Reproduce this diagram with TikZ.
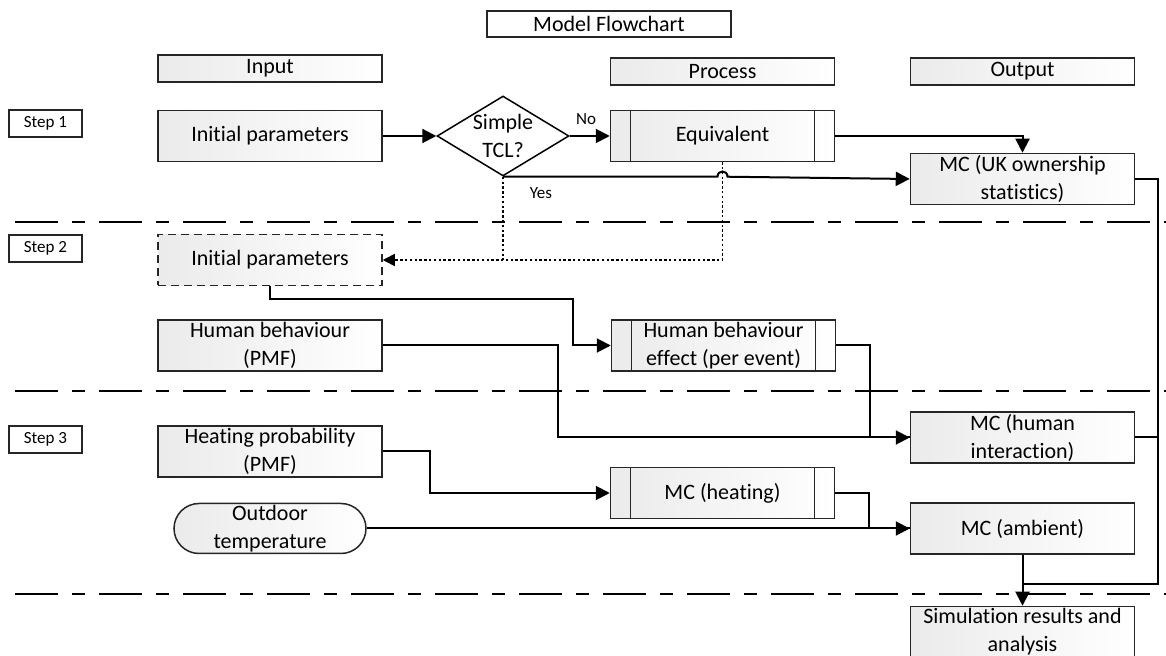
\documentclass[tikz,border=0pt]{standalone}
\usepackage{fontspec}
\setmainfont{Carlito}[Ligatures=NoCommon]
\usetikzlibrary{positioning,calc,shapes.geometric,arrows.meta}

\begin{document}
\begin{tikzpicture}[x=0.5pt,y=-0.5pt,
  every node/.style={inner sep=0pt,align=center,font=\fontsize{11}{14}\selectfont},
  box/.style={draw=black!85,line width=0.75pt,left color=black!8,right color=white,
    minimum width=112pt,minimum height=25.5pt},
  hdr/.style={box,minimum height=13.5pt},
  stepbox/.style={draw=black!85,line width=0.75pt,fill=white,minimum width=36.5pt,
    minimum height=13.5pt,font=\fontsize{8.5}{10}\selectfont},
  subbox/.style={box,path picture={
    \draw[black!85] ([xshift=10pt]path picture bounding box.north west) -- ([xshift=10pt]path picture bounding box.south west)
      ([xshift=-10pt]path picture bounding box.north east) -- ([xshift=-10pt]path picture bounding box.south east);}},
  small/.style={font=\fontsize{8.5}{10}\selectfont},
  line/.style={line width=1pt},
  arr/.style={line,-{Triangle[length=7pt,width=7pt]}},
  dots/.style={line width=0.75pt,dash pattern=on 1.2pt off 1.2pt},
  sep/.style={line width=1pt,dash pattern=on 21.5pt off 7pt on 6.5pt off 7pt}]
  \useasboundingbox (0,0) rectangle (1166,656);

  % headers
  \node[draw=black!85,line width=0.75pt,fill=white,minimum width=122pt,minimum height=13pt] at (609,24) (title) {Model Flowchart};
  \node[hdr] at (270,68.5)    (hdin)   {Input};
  \node[hdr] at (722.5,71.5)  (hdproc) {Process};
  \node[hdr] at (1022.5,71.5) (hdout)  {Output};

  \node[stepbox] at (45.5,123.5) (s1) {Step 1};
  \node[stepbox] at (45.5,248.5) (s2) {Step 2};
  \node[stepbox] at (45.5,439.5) (s3) {Step 3};

  \foreach \y in {222,391,594}
    \draw[sep] (15,\y) -- (1166,\y);

  % step 1
  \node[box] at (270,136) (ip) {Initial parameters};
  \node[draw,line width=0.75pt,fill=white,diamond,aspect=1.65] at (503,136) (tcl) {Simple\\TCL?};
  \node[subbox] at (722.5,136) (eq) {Equivalent};
  \node[box] at (1022.5,179) (uk) {MC (UK ownership\\statistics)};
  \node[small] at (586,119) (no) {No};
  \node[small] at (541,193) (yes) {Yes};

  % step 2
  \node[box,dashed,dash pattern=on 4pt off 2.5pt] at (270,260) (ip2) {Initial parameters};
  \node[box,below=16.5pt of ip2] (hb) {Human behaviour\\(PMF)};
  \node[subbox,right=114pt of hb] (hbe) {Human behaviour\\effect (per event)};

  % step 3
  \node[box] at (270,451.5) (heat) {Heating probability\\(PMF)};
  \node[box,rounded corners=12.5pt,minimum width=96pt,minimum height=25pt] at (270,528.5) (outt) {Outdoor\\temperature};
  \node[subbox] at (722.5,493) (mcheat) {MC (heating)};
  \node[box] at (1022.5,437.5) (mch) {MC (human\\interaction)};
  \node[box] at (1022.5,528.5) (amb) {MC (ambient)};
  \node[box] at (1022.5,632) (sim) {Simulation results and\\analysis};

  \coordinate (jmp) at (tcl.south -| eq.south);
  \coordinate (bus) at (1158,584);

  \draw[arr] (ip.east) -- (tcl.west);
  \draw[arr] (tcl.east) -- (eq.west);
  \draw[arr] (eq.east) -| (uk.north);
  \draw[arr] (tcl.south) -- ([xshift=-2.5pt]jmp) .. controls ([xshift=-2.5pt,yshift=3.5pt]jmp) and ([xshift=2.5pt,yshift=3.5pt]jmp) .. ([xshift=2.5pt]jmp) -- (uk.west);
  \draw[dots] (tcl.south) -- (tcl.south |- ip2.east);
  \draw[dots,-{Triangle[length=6pt,width=6pt]}] (eq.south) |- (ip2.east);

  \draw[arr] (ip2.south) -- ++(0,13) -| ($(hbe.west)+(-38,0)$) -- (hbe.west);
  \draw[arr] (hb.east) -- ++(175,0) |- (mch.west);
  \draw[line] (hbe.east) -- ++(34,0) |- (mch.west);
  \draw[arr] (heat.east) -- ++(47,0) |- (mcheat.west);
  \draw[line] (mcheat.east) -- ++(34,0) |- (amb.west);
  \draw[arr] (outt.east) -- (amb.west);
  \draw[arr] (amb.south) -- (sim.north);
  \draw[line] (uk.east) -| (bus) -- (bus -| sim.north);
  \draw[line] (mch.east) -- (mch.east -| bus);
\end{tikzpicture}
\end{document}
